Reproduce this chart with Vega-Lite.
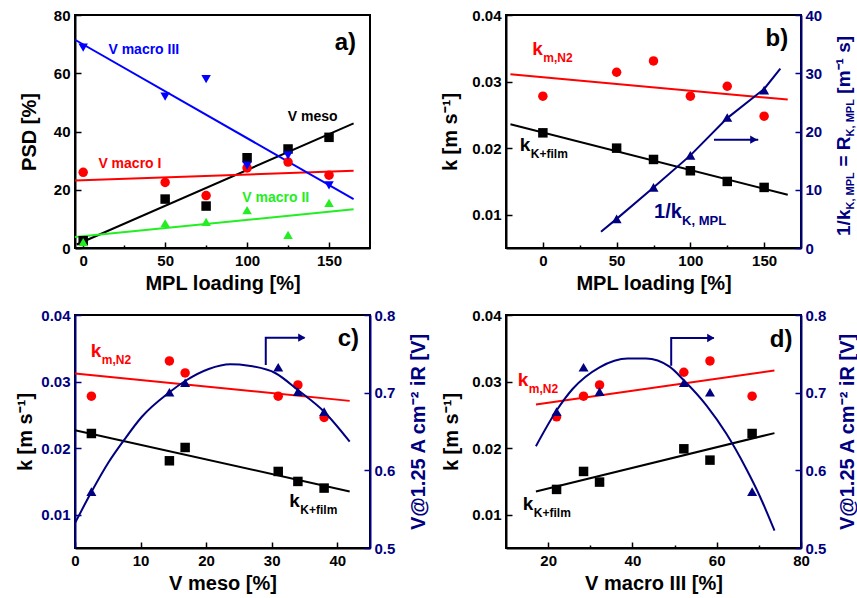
{
"$schema":"https://vega.github.io/schema/vega-lite/v6.json",
"background":"white",
"padding":{"left":14,"top":7,"right":0,"bottom":0},
"config":{
 "font":"Liberation Sans",
 "view":{"stroke":"#000000","strokeWidth":2},
 "axis":{"grid":false,"labelFont":"Liberation Sans","labelFontSize":15,"labelFontWeight":"bold","labelColor":"#000000","labelPadding":11,"labelOverlap":false,"labelFlush":false,"titleFont":"Liberation Sans","titleFontSize":20,"titleFontWeight":"bold","titleColor":"#000000","domainColor":"#000000","domainWidth":2,"tickColor":"#000000","tickWidth":1.5},
 "text":{"font":"Liberation Sans","fontWeight":"bold"}
},
"datasets":{
 "psdPts":[
  {"mpl":0,"series":"V meso","psd":2.5},{"mpl":50,"series":"V meso","psd":16.8},{"mpl":75,"series":"V meso","psd":14.4},{"mpl":100,"series":"V meso","psd":31},{"mpl":125,"series":"V meso","psd":34},{"mpl":150,"series":"V meso","psd":38},
  {"mpl":0,"series":"V macro I","psd":26},{"mpl":50,"series":"V macro I","psd":22.5},{"mpl":75,"series":"V macro I","psd":18},{"mpl":100,"series":"V macro I","psd":27.5},{"mpl":125,"series":"V macro I","psd":29.5},{"mpl":150,"series":"V macro I","psd":25},
  {"mpl":0,"series":"V macro II","psd":2},{"mpl":50,"series":"V macro II","psd":8.5},{"mpl":75,"series":"V macro II","psd":9},{"mpl":100,"series":"V macro II","psd":13},{"mpl":125,"series":"V macro II","psd":4.5},{"mpl":150,"series":"V macro II","psd":15.5},
  {"mpl":0,"series":"V macro III","psd":68.8},{"mpl":50,"series":"V macro III","psd":52},{"mpl":75,"series":"V macro III","psd":58},{"mpl":100,"series":"V macro III","psd":28.3},{"mpl":125,"series":"V macro III","psd":31.8},{"mpl":150,"series":"V macro III","psd":21.5}
 ],
 "psdFit":[
  {"mpl":-4,"series":"V meso","psd":1.2},{"mpl":165,"series":"V meso","psd":42.8},
  {"mpl":-5,"series":"V macro I","psd":23.2},{"mpl":165,"series":"V macro I","psd":26.5},
  {"mpl":-5,"series":"V macro II","psd":3.8},{"mpl":165,"series":"V macro II","psd":13.3},
  {"mpl":-5,"series":"V macro III","psd":71.5},{"mpl":165,"series":"V macro III","psd":16.8}
 ],
 "psdLbl":[
  {"mpl":37,"psd":68,"series":"V macro III","label":"V macro III"},
  {"mpl":140,"psd":45,"series":"V meso","label":"V meso"},
  {"mpl":28.5,"psd":29,"series":"V macro I","label":"V macro I"},
  {"mpl":117.5,"psd":17.3,"series":"V macro II","label":"V macro II"}
 ],
 "panelA":[{"mpl":160,"psd":70.5,"label":"a)"}],
 "kMplPts":[
  {"mpl":0,"series":"k_m,N2","k":0.0278},{"mpl":50,"series":"k_m,N2","k":0.0314},{"mpl":75,"series":"k_m,N2","k":0.0331},{"mpl":100,"series":"k_m,N2","k":0.0278},{"mpl":125,"series":"k_m,N2","k":0.0293},{"mpl":150,"series":"k_m,N2","k":0.0248},
  {"mpl":0,"series":"k_K+film","k":0.0223},{"mpl":50,"series":"k_K+film","k":0.0200},{"mpl":75,"series":"k_K+film","k":0.0183},{"mpl":100,"series":"k_K+film","k":0.0166},{"mpl":125,"series":"k_K+film","k":0.0150},{"mpl":150,"series":"k_K+film","k":0.0141}
 ],
 "kMplFit":[
  {"mpl":-22,"series":"k_m,N2","k":0.0311},{"mpl":166,"series":"k_m,N2","k":0.0273},
  {"mpl":-22,"series":"k_K+film","k":0.0236},{"mpl":166,"series":"k_K+film","k":0.0130}
 ],
 "kMplLbl":[
  {"mpl":-7.2,"k":0.034,"series":"k_m,N2","main":"k","sub":"m,N2"},
  {"mpl":-15.6,"k":0.01964,"series":"k_K+film","main":"k","sub":"K+film"}
 ],
 "panelB":[{"mpl":158.6,"k":0.0364,"label":"b)"}],
 "rPts":[{"mpl":50,"r":5.0},{"mpl":75,"r":10.4},{"mpl":100,"r":15.9},{"mpl":125,"r":22.4},{"mpl":150,"r":27.1}],
 "rFit":[{"mpl":39.4,"r":2.8},{"mpl":50,"r":5.0},{"mpl":75,"r":10.4},{"mpl":100,"r":15.9},{"mpl":125,"r":22.3},{"mpl":150,"r":27.3},{"mpl":161,"r":30.8}],
 "rArrow":[{"mpl":116,"r":18.6},{"mpl":146,"r":18.6}],
 "rHead":[{"mpl":143,"r":18.6}],
 "rLbl":[{"mpl":75.4,"r":5.2,"main":"1/k","sub":"K, MPL"}],
 "rTitle":[
  {"mpl":175,"r":2.07,"level":"main","seg":"1/k"},
  {"mpl":175,"r":6.62,"level":"sub","seg":"K, MPL"},
  {"mpl":175,"r":13.97,"level":"main","seg":"= R"},
  {"mpl":175,"r":19.16,"level":"sub","seg":"K, MPL"},
  {"mpl":175,"r":26.5,"level":"main","seg":"[m⁻¹ s]"}
 ],
 "kMesoPts":[
  {"meso":2.5,"series":"k_m,N2","k":0.0278},{"meso":14.4,"series":"k_m,N2","k":0.0331},{"meso":16.8,"series":"k_m,N2","k":0.0313},{"meso":31,"series":"k_m,N2","k":0.0278},{"meso":34,"series":"k_m,N2","k":0.0295},{"meso":38,"series":"k_m,N2","k":0.0246},
  {"meso":2.5,"series":"k_K+film","k":0.0222},{"meso":14.4,"series":"k_K+film","k":0.0181},{"meso":16.8,"series":"k_K+film","k":0.0201},{"meso":31,"series":"k_K+film","k":0.0165},{"meso":34,"series":"k_K+film","k":0.0150},{"meso":38,"series":"k_K+film","k":0.0140}
 ],
 "kMesoFit":[
  {"meso":0,"series":"k_m,N2","k":0.0312},{"meso":41.9,"series":"k_m,N2","k":0.0271},
  {"meso":0,"series":"k_K+film","k":0.0227},{"meso":41.9,"series":"k_K+film","k":0.0135}
 ],
 "kMesoLbl":[
  {"meso":2.4,"k":0.03374,"series":"k_m,N2","main":"k","sub":"m,N2"},
  {"meso":32.7,"k":0.0112,"series":"k_K+film","main":"k","sub":"K+film"}
 ],
 "panelC":[{"meso":41.7,"k":0.0364,"label":"c)"}],
 "vMesoPts":[{"meso":2.5,"v":0.5725},{"meso":14.4,"v":0.7005},{"meso":16.8,"v":0.7128},{"meso":31,"v":0.7327},{"meso":34,"v":0.7013},{"meso":38,"v":0.6755}],
 "vMesoCurve":[{"meso":0,"v":0.532},{"meso":2.5,"v":0.572},{"meso":5.1,"v":0.61},{"meso":7.4,"v":0.638},{"meso":10.2,"v":0.669},{"meso":14.4,"v":0.7005},{"meso":16.8,"v":0.715},{"meso":20.4,"v":0.7305},{"meso":23.7,"v":0.7365},{"meso":26.5,"v":0.7347},{"meso":30.6,"v":0.725},{"meso":34.1,"v":0.7027},{"meso":38,"v":0.6755},{"meso":41.9,"v":0.637}],
 "vMesoArrow":[{"meso":29.1,"v":0.7356,"i":0},{"meso":29.1,"v":0.7708,"i":1},{"meso":35.0,"v":0.7708,"i":2}],
 "vMesoHead":[{"meso":34.6,"v":0.7708}],
 "kM3Pts":[
  {"m3":22,"series":"k_m,N2","k":0.0247},{"m3":28.4,"series":"k_m,N2","k":0.0278},{"m3":32.2,"series":"k_m,N2","k":0.0295},{"m3":52.2,"series":"k_m,N2","k":0.0314},{"m3":58.4,"series":"k_m,N2","k":0.0331},{"m3":68.4,"series":"k_m,N2","k":0.0278},
  {"m3":22,"series":"k_K+film","k":0.0138},{"m3":28.4,"series":"k_K+film","k":0.0165},{"m3":32.2,"series":"k_K+film","k":0.0149},{"m3":52.2,"series":"k_K+film","k":0.0199},{"m3":58.4,"series":"k_K+film","k":0.0182},{"m3":68.4,"series":"k_K+film","k":0.0222}
 ],
 "kM3Fit":[
  {"m3":17.1,"series":"k_m,N2","k":0.02655},{"m3":73.7,"series":"k_m,N2","k":0.03165},
  {"m3":17.1,"series":"k_K+film","k":0.0135},{"m3":73.7,"series":"k_K+film","k":0.02226}
 ],
 "kM3Lbl":[
  {"m3":12.8,"k":0.0294,"series":"k_m,N2","main":"k","sub":"m,N2"},
  {"m3":14.0,"k":0.01066,"series":"k_K+film","main":"k","sub":"K+film"}
 ],
 "panelD":[{"m3":75.3,"k":0.0362,"label":"d)"}],
 "vM3Pts":[{"m3":22,"v":0.6755},{"m3":28.4,"v":0.7327},{"m3":32.2,"v":0.7013},{"m3":52.2,"v":0.7128},{"m3":58.4,"v":0.7005},{"m3":68.4,"v":0.5725}],
 "vM3Curve":[{"m3":17.1,"v":0.631},{"m3":22,"v":0.677},{"m3":25.8,"v":0.7047},{"m3":32.2,"v":0.7327},{"m3":38.9,"v":0.744},{"m3":43.2,"v":0.744},{"m3":48.8,"v":0.7335},{"m3":52.2,"v":0.716},{"m3":57.5,"v":0.684},{"m3":62.3,"v":0.647},{"m3":67,"v":0.602},{"m3":70.2,"v":0.567},{"m3":73.7,"v":0.5225}],
 "vM3Arrow":[{"m3":49.2,"v":0.7347,"i":0},{"m3":49.2,"v":0.7704,"i":1},{"m3":59.3,"v":0.7704,"i":2}],
 "vM3Head":[{"m3":58.6,"v":0.7704}]
},
"concat":[
 {
  "width":295,"height":233,
  "layer":[
   {"data":{"name":"psdFit"},"mark":{"type":"line","strokeWidth":2},
    "encoding":{
     "x":{"field":"mpl","type":"quantitative","scale":{"domain":[-5,175]},"axis":{"title":"MPL loading [%]","values":[0,25,50,75,100,125,150],"labelOverlap":false,"labelExpr":"datum.value % 50 === 0 ? datum.label : ''","tickSize":{"condition":{"test":"datum.value % 50 === 0","value":-6},"value":-3},"titleY":35,"titleBaseline":"middle"}},
     "y":{"field":"psd","type":"quantitative","scale":{"domain":[0,80]},"axis":{"title":"PSD [%]","values":[0,10,20,30,40,50,60,70,80],"labelOverlap":false,"labelExpr":"datum.value % 20 === 0 ? datum.label : ''","tickSize":{"condition":{"test":"datum.value % 20 === 0","value":-6},"value":-3},"titleX":-46,"titleBaseline":"middle"}},
     "color":{"field":"series","type":"nominal","scale":{"domain":["V macro I","V macro II","V macro III","V meso"],"range":["#ff0000","#22ee22","#0000ff","#000000"]},"legend":null},
     "detail":{"field":"series"}
    }},
   {"data":{"name":"psdPts"},"mark":{"type":"point","filled":true,"opacity":1,"size":90},
    "encoding":{
     "x":{"field":"mpl","type":"quantitative","scale":{"domain":[-5,175]}},
     "y":{"field":"psd","type":"quantitative","scale":{"domain":[0,80]}},
     "color":{"field":"series","type":"nominal","scale":{"domain":["V macro I","V macro II","V macro III","V meso"],"range":["#ff0000","#22ee22","#0000ff","#000000"]},"legend":null},
     "shape":{"field":"series","type":"nominal","scale":{"domain":["V macro I","V macro II","V macro III","V meso"],"range":["circle","triangle-up","triangle-down","square"]},"legend":null}
    }},
   {"data":{"name":"psdLbl"},"mark":{"type":"text","fontSize":14,"align":"center","baseline":"middle"},
    "encoding":{
     "x":{"field":"mpl","type":"quantitative","scale":{"domain":[-5,175]}},
     "y":{"field":"psd","type":"quantitative","scale":{"domain":[0,80]}},
     "text":{"field":"label"},
     "color":{"field":"series","type":"nominal","scale":{"domain":["V macro I","V macro II","V macro III","V meso"],"range":["#ff0000","#22ee22","#0000ff","#000000"]},"legend":null}
    }},
   {"data":{"name":"panelA"},"mark":{"type":"text","fontSize":24,"align":"center","baseline":"middle","color":"#000000"},
    "encoding":{
     "x":{"field":"mpl","type":"quantitative","scale":{"domain":[-5,175]}},
     "y":{"field":"psd","type":"quantitative","scale":{"domain":[0,80]}},
     "text":{"field":"label"}
    }}
  ]
 },
 {
  "width":295,"height":233,
  "layer":[
   {"layer":[
    {"data":{"name":"kMplFit"},"mark":{"type":"line","strokeWidth":2},
     "encoding":{
      "x":{"field":"mpl","type":"quantitative","scale":{"domain":[-25,175]},"axis":{"title":"MPL loading [%]","values":[0,25,50,75,100,125,150],"labelOverlap":false,"labelExpr":"datum.value % 50 === 0 ? datum.label : ''","tickSize":{"condition":{"test":"datum.value % 50 === 0","value":-6},"value":-3},"titleY":35,"titleBaseline":"middle"}},
      "y":{"field":"k","type":"quantitative","scale":{"domain":[0.005,0.04]},"axis":{"title":"k [m s⁻¹]","values":[0.01,0.02,0.03,0.04],"format":".2f","tickSize":-6,"titleX":-56,"titleBaseline":"middle"}},
      "color":{"field":"series","type":"nominal","scale":{"domain":["k_K+film","k_m,N2"],"range":["#000000","#ff0000"]},"legend":null},
      "detail":{"field":"series"}
     }},
    {"data":{"name":"kMplPts"},"mark":{"type":"point","filled":true,"opacity":1,"size":90},
     "encoding":{
      "x":{"field":"mpl","type":"quantitative","scale":{"domain":[-25,175]}},
      "y":{"field":"k","type":"quantitative","scale":{"domain":[0.005,0.04]}},
      "color":{"field":"series","type":"nominal","scale":{"domain":["k_K+film","k_m,N2"],"range":["#000000","#ff0000"]},"legend":null},
      "shape":{"field":"series","type":"nominal","scale":{"domain":["k_K+film","k_m,N2"],"range":["square","circle"]},"legend":null}
     }},
    {"data":{"name":"kMplLbl"},"mark":{"type":"text","fontSize":19,"align":"left","baseline":"alphabetic"},
     "encoding":{
      "x":{"field":"mpl","type":"quantitative","scale":{"domain":[-25,175]}},
      "y":{"field":"k","type":"quantitative","scale":{"domain":[0.005,0.04]}},
      "text":{"field":"main"},
      "color":{"field":"series","type":"nominal","scale":{"domain":["k_K+film","k_m,N2"],"range":["#000000","#ff0000"]},"legend":null}
     }},
    {"data":{"name":"kMplLbl"},"mark":{"type":"text","fontSize":12,"align":"left","baseline":"alphabetic","dx":11,"dy":7},
     "encoding":{
      "x":{"field":"mpl","type":"quantitative","scale":{"domain":[-25,175]}},
      "y":{"field":"k","type":"quantitative","scale":{"domain":[0.005,0.04]}},
      "text":{"field":"sub"},
      "color":{"field":"series","type":"nominal","scale":{"domain":["k_K+film","k_m,N2"],"range":["#000000","#ff0000"]},"legend":null}
     }},
    {"data":{"name":"panelB"},"mark":{"type":"text","fontSize":24,"align":"center","baseline":"middle","color":"#000000"},
     "encoding":{
      "x":{"field":"mpl","type":"quantitative","scale":{"domain":[-25,175]}},
      "y":{"field":"k","type":"quantitative","scale":{"domain":[0.005,0.04]}},
      "text":{"field":"label"}
     }}
   ]},
   {"layer":[
    {"data":{"name":"rFit"},"mark":{"type":"line","strokeWidth":2,"color":"#000080"},
     "encoding":{
      "x":{"field":"mpl","type":"quantitative","scale":{"domain":[-25,175]}},
      "y":{"field":"r","type":"quantitative","scale":{"domain":[0,40]},"axis":{"orient":"right","title":null,"values":[0,5,10,15,20,25,30,35,40],"labelOverlap":false,"labelExpr":"datum.value % 10 === 0 ? datum.label : ''","tickSize":{"condition":{"test":"datum.value % 10 === 0","value":-6},"value":-3},"labelColor":"#000080","domainColor":"#000080","tickColor":"#000080","labelPadding":10}}
     }},
    {"data":{"name":"rPts"},"mark":{"type":"point","filled":true,"opacity":1,"size":100,"shape":"triangle-up","color":"#000080"},
     "encoding":{
      "x":{"field":"mpl","type":"quantitative","scale":{"domain":[-25,175]}},
      "y":{"field":"r","type":"quantitative","scale":{"domain":[0,40]}}
     }},
    {"data":{"name":"rArrow"},"mark":{"type":"line","strokeWidth":2,"color":"#000080"},
     "encoding":{
      "x":{"field":"mpl","type":"quantitative","scale":{"domain":[-25,175]}},
      "y":{"field":"r","type":"quantitative","scale":{"domain":[0,40]}}
     }},
    {"data":{"name":"rHead"},"mark":{"type":"point","filled":true,"opacity":1,"size":70,"shape":"triangle-right","color":"#000080"},
     "encoding":{
      "x":{"field":"mpl","type":"quantitative","scale":{"domain":[-25,175]}},
      "y":{"field":"r","type":"quantitative","scale":{"domain":[0,40]}}
     }},
    {"data":{"name":"rLbl"},"mark":{"type":"text","fontSize":20,"align":"left","baseline":"alphabetic","color":"#000080"},
     "encoding":{
      "x":{"field":"mpl","type":"quantitative","scale":{"domain":[-25,175]}},
      "y":{"field":"r","type":"quantitative","scale":{"domain":[0,40]}},
      "text":{"field":"main"}
     }},
    {"data":{"name":"rLbl"},"mark":{"type":"text","fontSize":13,"align":"left","baseline":"alphabetic","color":"#000080","dx":28,"dy":7},
     "encoding":{
      "x":{"field":"mpl","type":"quantitative","scale":{"domain":[-25,175]}},
      "y":{"field":"r","type":"quantitative","scale":{"domain":[0,40]}},
      "text":{"field":"sub"}
     }},
    {"data":{"name":"rTitle"},"transform":[{"filter":"datum.level === 'main'"}],"mark":{"type":"text","fontSize":19,"align":"left","baseline":"alphabetic","angle":270,"dy":49,"color":"#000080"},
     "encoding":{
      "x":{"field":"mpl","type":"quantitative","scale":{"domain":[-25,175]}},
      "y":{"field":"r","type":"quantitative","scale":{"domain":[0,40]}},
      "text":{"field":"seg"}
     }},
    {"data":{"name":"rTitle"},"transform":[{"filter":"datum.level === 'sub'"}],"mark":{"type":"text","fontSize":11,"align":"left","baseline":"alphabetic","angle":270,"dy":53,"color":"#000080"},
     "encoding":{
      "x":{"field":"mpl","type":"quantitative","scale":{"domain":[-25,175]}},
      "y":{"field":"r","type":"quantitative","scale":{"domain":[0,40]}},
      "text":{"field":"seg"}
     }}
   ]}
  ],
  "resolve":{"scale":{"y":"independent"}}
 },
 {
  "width":295,"height":233,
  "layer":[
   {"layer":[
    {"data":{"name":"kMesoFit"},"mark":{"type":"line","strokeWidth":2},
     "encoding":{
      "x":{"field":"meso","type":"quantitative","scale":{"domain":[0,45]},"axis":{"title":"V meso [%]","values":[0,5,10,15,20,25,30,35,40,45],"labelOverlap":false,"labelExpr":"datum.value % 10 === 0 ? datum.label : ''","tickSize":{"condition":{"test":"datum.value % 10 === 0","value":-6},"value":-3},"titleY":35,"titleBaseline":"middle"}},
      "y":{"field":"k","type":"quantitative","scale":{"domain":[0.005,0.04]},"axis":{"title":"k [m s⁻¹]","values":[0.01,0.02,0.03,0.04],"format":".2f","tickSize":-6,"titleX":-50,"titleBaseline":"middle","labelColor":"#000080","domainColor":"#000080","tickColor":"#000080"}},
      "color":{"field":"series","type":"nominal","scale":{"domain":["k_K+film","k_m,N2"],"range":["#000000","#ff0000"]},"legend":null},
      "detail":{"field":"series"}
     }},
    {"data":{"name":"kMesoPts"},"mark":{"type":"point","filled":true,"opacity":1,"size":90},
     "encoding":{
      "x":{"field":"meso","type":"quantitative","scale":{"domain":[0,45]}},
      "y":{"field":"k","type":"quantitative","scale":{"domain":[0.005,0.04]}},
      "color":{"field":"series","type":"nominal","scale":{"domain":["k_K+film","k_m,N2"],"range":["#000000","#ff0000"]},"legend":null},
      "shape":{"field":"series","type":"nominal","scale":{"domain":["k_K+film","k_m,N2"],"range":["square","circle"]},"legend":null}
     }},
    {"data":{"name":"kMesoLbl"},"mark":{"type":"text","fontSize":19,"align":"left","baseline":"alphabetic"},
     "encoding":{
      "x":{"field":"meso","type":"quantitative","scale":{"domain":[0,45]}},
      "y":{"field":"k","type":"quantitative","scale":{"domain":[0.005,0.04]}},
      "text":{"field":"main"},
      "color":{"field":"series","type":"nominal","scale":{"domain":["k_K+film","k_m,N2"],"range":["#000000","#ff0000"]},"legend":null}
     }},
    {"data":{"name":"kMesoLbl"},"mark":{"type":"text","fontSize":12,"align":"left","baseline":"alphabetic","dx":11,"dy":7},
     "encoding":{
      "x":{"field":"meso","type":"quantitative","scale":{"domain":[0,45]}},
      "y":{"field":"k","type":"quantitative","scale":{"domain":[0.005,0.04]}},
      "text":{"field":"sub"},
      "color":{"field":"series","type":"nominal","scale":{"domain":["k_K+film","k_m,N2"],"range":["#000000","#ff0000"]},"legend":null}
     }},
    {"data":{"name":"panelC"},"mark":{"type":"text","fontSize":24,"align":"center","baseline":"middle","color":"#000000"},
     "encoding":{
      "x":{"field":"meso","type":"quantitative","scale":{"domain":[0,45]}},
      "y":{"field":"k","type":"quantitative","scale":{"domain":[0.005,0.04]}},
      "text":{"field":"label"}
     }}
   ]},
   {"layer":[
    {"data":{"name":"vMesoCurve"},"mark":{"type":"line","strokeWidth":2,"color":"#000080","interpolate":"monotone"},
     "encoding":{
      "x":{"field":"meso","type":"quantitative","scale":{"domain":[0,45]}},
      "y":{"field":"v","type":"quantitative","scale":{"domain":[0.5,0.8]},"axis":{"orient":"right","title":"V@1.25 A cm⁻² iR [V]","titleAngle":270,"titleX":48,"titleBaseline":"middle","titleColor":"#000080","values":[0.5,0.55,0.6,0.65,0.7,0.75,0.8],"labelOverlap":false,"labelExpr":"abs(datum.value*10 - round(datum.value*10)) < 0.000001 ? format(datum.value, '.1f') : ''","tickSize":{"condition":{"test":"abs(datum.value*10 - round(datum.value*10)) < 0.000001","value":-6},"value":-3},"labelColor":"#000080","domainColor":"#000080","tickColor":"#000080","labelPadding":10}}
     }},
    {"data":{"name":"vMesoPts"},"mark":{"type":"point","filled":true,"opacity":1,"size":100,"shape":"triangle-up","color":"#000080"},
     "encoding":{
      "x":{"field":"meso","type":"quantitative","scale":{"domain":[0,45]}},
      "y":{"field":"v","type":"quantitative","scale":{"domain":[0.5,0.8]}}
     }},
    {"data":{"name":"vMesoArrow"},"mark":{"type":"line","strokeWidth":2,"color":"#000080"},
     "encoding":{
      "x":{"field":"meso","type":"quantitative","scale":{"domain":[0,45]}},
      "y":{"field":"v","type":"quantitative","scale":{"domain":[0.5,0.8]}},
      "order":{"field":"i","type":"quantitative"}
     }},
    {"data":{"name":"vMesoHead"},"mark":{"type":"point","filled":true,"opacity":1,"size":70,"shape":"triangle-right","color":"#000080"},
     "encoding":{
      "x":{"field":"meso","type":"quantitative","scale":{"domain":[0,45]}},
      "y":{"field":"v","type":"quantitative","scale":{"domain":[0.5,0.8]}}
     }}
   ]}
  ],
  "resolve":{"scale":{"y":"independent"}}
 },
 {
  "width":295,"height":233,
  "layer":[
   {"layer":[
    {"data":{"name":"kM3Fit"},"mark":{"type":"line","strokeWidth":2},
     "encoding":{
      "x":{"field":"m3","type":"quantitative","scale":{"domain":[10,80]},"axis":{"title":"V macro III [%]","values":[20,30,40,50,60,70,80],"labelOverlap":false,"labelExpr":"datum.value % 20 === 0 ? datum.label : ''","tickSize":{"condition":{"test":"datum.value % 20 === 0","value":-6},"value":-3},"titleY":35,"titleBaseline":"middle"}},
      "y":{"field":"k","type":"quantitative","scale":{"domain":[0.005,0.04]},"axis":{"title":"k [m s⁻¹]","values":[0.01,0.02,0.03,0.04],"format":".2f","tickSize":-6,"titleX":-55,"titleBaseline":"middle"}},
      "color":{"field":"series","type":"nominal","scale":{"domain":["k_K+film","k_m,N2"],"range":["#000000","#ff0000"]},"legend":null},
      "detail":{"field":"series"}
     }},
    {"data":{"name":"kM3Pts"},"mark":{"type":"point","filled":true,"opacity":1,"size":90},
     "encoding":{
      "x":{"field":"m3","type":"quantitative","scale":{"domain":[10,80]}},
      "y":{"field":"k","type":"quantitative","scale":{"domain":[0.005,0.04]}},
      "color":{"field":"series","type":"nominal","scale":{"domain":["k_K+film","k_m,N2"],"range":["#000000","#ff0000"]},"legend":null},
      "shape":{"field":"series","type":"nominal","scale":{"domain":["k_K+film","k_m,N2"],"range":["square","circle"]},"legend":null}
     }},
    {"data":{"name":"kM3Lbl"},"mark":{"type":"text","fontSize":19,"align":"left","baseline":"alphabetic"},
     "encoding":{
      "x":{"field":"m3","type":"quantitative","scale":{"domain":[10,80]}},
      "y":{"field":"k","type":"quantitative","scale":{"domain":[0.005,0.04]}},
      "text":{"field":"main"},
      "color":{"field":"series","type":"nominal","scale":{"domain":["k_K+film","k_m,N2"],"range":["#000000","#ff0000"]},"legend":null}
     }},
    {"data":{"name":"kM3Lbl"},"mark":{"type":"text","fontSize":12,"align":"left","baseline":"alphabetic","dx":11,"dy":7},
     "encoding":{
      "x":{"field":"m3","type":"quantitative","scale":{"domain":[10,80]}},
      "y":{"field":"k","type":"quantitative","scale":{"domain":[0.005,0.04]}},
      "text":{"field":"sub"},
      "color":{"field":"series","type":"nominal","scale":{"domain":["k_K+film","k_m,N2"],"range":["#000000","#ff0000"]},"legend":null}
     }},
    {"data":{"name":"panelD"},"mark":{"type":"text","fontSize":24,"align":"center","baseline":"middle","color":"#000000"},
     "encoding":{
      "x":{"field":"m3","type":"quantitative","scale":{"domain":[10,80]}},
      "y":{"field":"k","type":"quantitative","scale":{"domain":[0.005,0.04]}},
      "text":{"field":"label"}
     }}
   ]},
   {"layer":[
    {"data":{"name":"vM3Curve"},"mark":{"type":"line","strokeWidth":2,"color":"#000080","interpolate":"monotone"},
     "encoding":{
      "x":{"field":"m3","type":"quantitative","scale":{"domain":[10,80]}},
      "y":{"field":"v","type":"quantitative","scale":{"domain":[0.5,0.8]},"axis":{"orient":"right","title":"V@1.25 A cm⁻² iR [V]","titleAngle":270,"titleX":46,"titleBaseline":"middle","titleColor":"#000080","values":[0.5,0.55,0.6,0.65,0.7,0.75,0.8],"labelOverlap":false,"labelExpr":"abs(datum.value*10 - round(datum.value*10)) < 0.000001 ? format(datum.value, '.1f') : ''","tickSize":{"condition":{"test":"abs(datum.value*10 - round(datum.value*10)) < 0.000001","value":-6},"value":-3},"labelColor":"#000080","domainColor":"#000080","tickColor":"#000080","labelPadding":10}}
     }},
    {"data":{"name":"vM3Pts"},"mark":{"type":"point","filled":true,"opacity":1,"size":100,"shape":"triangle-up","color":"#000080"},
     "encoding":{
      "x":{"field":"m3","type":"quantitative","scale":{"domain":[10,80]}},
      "y":{"field":"v","type":"quantitative","scale":{"domain":[0.5,0.8]}}
     }},
    {"data":{"name":"vM3Arrow"},"mark":{"type":"line","strokeWidth":2,"color":"#000080"},
     "encoding":{
      "x":{"field":"m3","type":"quantitative","scale":{"domain":[10,80]}},
      "y":{"field":"v","type":"quantitative","scale":{"domain":[0.5,0.8]}},
      "order":{"field":"i","type":"quantitative"}
     }},
    {"data":{"name":"vM3Head"},"mark":{"type":"point","filled":true,"opacity":1,"size":70,"shape":"triangle-right","color":"#000080"},
     "encoding":{
      "x":{"field":"m3","type":"quantitative","scale":{"domain":[10,80]}},
      "y":{"field":"v","type":"quantitative","scale":{"domain":[0.5,0.8]}}
     }}
   ]}
  ],
  "resolve":{"scale":{"y":"independent"}}
 }
],
"columns":2,
"spacing":{"row":67,"column":136},
"bounds":"flush",
"resolve":{"scale":{"color":"independent","shape":"independent"}}
}
